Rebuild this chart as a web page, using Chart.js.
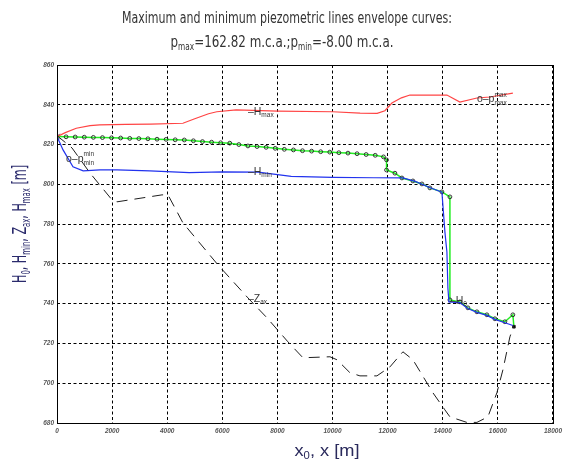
<!DOCTYPE html>
<html><head><meta charset="utf-8">
<script src="https://cdn.jsdelivr.net/npm/chart.js@4/dist/chart.umd.min.js"></script>
<style>html,body{margin:0;padding:0;background:#fff}#wrap{width:566px;height:463px}</style>
</head><body><div id="wrap"><canvas id="c" width="566" height="463"></canvas></div>
<script>
// ---- tick values ----
const xTicks = [0,2000,4000,6000,8000,10000,12000,14000,16000,18000];
const yTicks = [680,700,720,740,760,780,800,820,840,860];

// ---- H0 (initial piezometric line, green with node markers) ----
const h0X = [0,330,660,990,1320,1650,1980,2310,2640,2970,3300,3630,3960,4290,4620,4950,5280,5610,5940,6270,6600,6930,7260,7590,7920,8250,8580,8910,9240,9570,9900,10230,10560,10890,11220,11550,11850,11960,11960,12264,12518,12917,13244,13534,13970,14260,14260,14623,14913,15240,15602,15892,16255,16545,16582];
const h0Y = [824.0,823.9,823.8,823.7,823.6,823.5,823.4,823.3,823.1,823.0,822.9,822.7,822.6,822.4,822.3,821.9,821.5,821.2,820.9,820.7,820.0,819.3,819.0,818.6,818.1,817.6,817.3,816.9,816.7,816.4,816.2,815.9,815.7,815.4,815.0,814.6,813.8,812.3,807.2,805.6,803.2,801.7,800.2,798.2,796.2,793.7,741.9,740.9,737.9,735.9,734.4,732.4,730.9,734.4,728.4];

// ---- Hmax envelope (red) ----
const hmaxX = [0,300,700,1200,1550,2500,3400,4570,5000,5500,5800,6500,8000,10000,11000,11620,11900,12155,12500,12808,14151,14623,15240,15711,16545];
const hmaxY = [824.0,826.0,828.2,829.5,829.9,830.1,830.3,830.7,833.0,835.5,836.5,837.4,836.8,836.5,835.8,835.7,837.0,840.9,843.5,844.9,844.9,841.4,843.4,843.9,845.9];

// ---- Hmin envelope (blue) ----
const hminX = [0,220,580,950,1560,2180,3370,4800,6000,7300,8500,10000,11500,12550,13000,13500,13970,14078,14151,14187,14224,14623,14913,15240,15602,15892,16255,16545];
const hminY = [824.0,817.3,808.8,806.8,807.3,807.3,806.8,805.9,806.3,806.1,804.0,803.5,803.3,803.2,801.5,798.5,796.0,776.1,766.0,747.9,740.9,740.5,737.6,735.6,734.1,732.1,730.4,729.0];

// ---- Zax pipe axis profile (black dashed) ----
const zaxX = [0,544,1197,1996,2177,3810,4028,4572,5842,6930,7620,8382,8926,9906,10160,10631,10994,11611,12083,12554,12917,13643,14078,14260,14877,15240,15639,15965,16183,16437,16582];
const zaxY = [824.5,818.3,805.7,792.2,791.2,794.7,794.7,780.6,759.5,742.9,732.9,720.8,712.8,713.3,711.8,705.3,703.7,703.7,708.2,715.8,711.8,695.2,686.6,683.1,680.3,680.3,683.1,695.2,706.7,723.3,729.0];

// ---- text ----
const titleLine1 = 'Maximum and minimum piezometric lines envelope curves:';
const titleLine2 = [{t:'p'},{t:'max',sub:1},{t:'=162.82 m.c.a.;p'},{t:'min',sub:1},{t:'=-8.00 m.c.a.'}];
const yTitle = [{t:'H'},{t:'0',sub:1},{t:', H'},{t:'min',sub:1},{t:', Z'},{t:'ax',sub:1},{t:', H'},{t:'max',sub:1},{t:' [m]'}];
const xTitle = [{t:'x'},{t:'0',sub:1},{t:', x [m]'}];
const curveLabels = [
  {x:6930, y:836.9, parts:[{t:'\u2013H'},{t:'max',sub:1}]},
  {x:6930, y:806.7, parts:[{t:'\u2013H'},{t:'min',sub:1}]},
  {x:6930, y:742.9, parts:[{t:'\u2013Z'},{t:'ax',sub:1}]},
  {x:14260, y:741.9, parts:[{t:'\u2013H'},{t:'0',sub:1}]},
  {x:15240, y:843.4, parts:[{t:'o\u2013p'},{stack:['max','max']}]},
  {x:327, y:813.3, parts:[{t:'o\u2013p'},{stack:['min','min']}]}
];

const pts = (xs, ys) => xs.map((x, i) => ({x, y: ys[i]}));

const FAM_N = "'Liberation Sans Narrow','Arial Narrow','DejaVu Sans Condensed',sans-serif";
const FAM = "'Liberation Sans',Arial,sans-serif";

function measureParts(ctx, parts, size, fam) {
  const subSize = size * 0.62;
  return parts.map(p => {
    if (p.stack) {
      ctx.font = subSize + 'px ' + fam;
      return {p, w: Math.max(...p.stack.map(s => ctx.measureText(s).width))};
    }
    ctx.font = ((p.sub || p.sup) ? subSize : size) + 'px ' + fam;
    return {p, w: ctx.measureText(p.t).width};
  });
}
function drawRich(ctx, parts, x, y, size, fam, color, align, targetW) {
  const subSize = size * 0.62;
  const seg = measureParts(ctx, parts, size, fam);
  const total = seg.reduce((a, s) => a + s.w, 0);
  const sx = targetW ? targetW / total : 1;
  ctx.save();
  ctx.translate(x, y);
  ctx.scale(sx, 1);
  ctx.fillStyle = color;
  ctx.textBaseline = 'alphabetic';
  ctx.textAlign = 'left';
  let cx = align === 'center' ? -total / 2 : 0;
  for (const s of seg) {
    const p = s.p;
    if (p.stack) {
      ctx.font = subSize + 'px ' + fam;
      ctx.fillText(p.stack[0], cx, -size * 0.5);
      ctx.fillText(p.stack[1], cx, size * 0.32);
    } else if (p.sub) {
      ctx.font = subSize + 'px ' + fam;
      ctx.fillText(p.t, cx, size * 0.22);
    } else {
      ctx.font = size + 'px ' + fam;
      ctx.fillText(p.t, cx, 0);
    }
    cx += s.w;
  }
  ctx.restore();
}

const decor = {
  id: 'decor',
  afterDraw(chart) {
    const ctx = chart.ctx;
    const a = chart.chartArea;
    const xs = chart.scales.x, ys = chart.scales.y;
    // box
    ctx.save();
    ctx.strokeStyle = '#000';
    ctx.lineWidth = 1;
    ctx.setLineDash([]);
    ctx.strokeRect(Math.round(a.left) + 0.5, Math.round(a.top) + 0.5, Math.round(a.right - a.left), Math.round(a.bottom - a.top));
    ctx.restore();
    // title
    drawRich(ctx, [{t: titleLine1}], 287, 22.5, 16, FAM_N, '#333', 'center', 330);
    drawRich(ctx, titleLine2, 282, 46.5, 16, FAM_N, '#333', 'center', 223);
    // axis titles
    drawRich(ctx, xTitle, 327, 455.5, 17, FAM, '#2a2a5c', 'center', 65);
    ctx.save();
    ctx.translate(26, 224);
    ctx.rotate(-Math.PI / 2);
    drawRich(ctx, yTitle, 0, 0, 19, FAM_N, '#2a2a6c', 'center', 118);
    ctx.restore();
    // curve labels
    for (const l of curveLabels) {
      const px = xs.getPixelForValue(l.x), py = ys.getPixelForValue(l.y);
      drawRich(ctx, l.parts, px, py + 3.8, 10.5, FAM, '#333', 'left');
    }
  }
};

new Chart(document.getElementById('c'), {
  type: 'line',
  data: {
    datasets: [
      {label: 'Zax', data: pts(zaxX, zaxY), borderColor: '#1e1e1e', borderWidth: 1, borderDash: [11, 7], pointRadius: 0, tension: 0},
      {label: 'Hmax', data: pts(hmaxX, hmaxY), borderColor: '#ff4444', borderWidth: 1.2, pointRadius: 0, tension: 0},
      {label: 'Hmin', data: pts(hminX, hminY), borderColor: '#2233ee', borderWidth: 1.2, pointRadius: 0, tension: 0},
      {label: 'H0', data: pts(h0X, h0Y), borderColor: '#22ee22', borderWidth: 1.5, tension: 0,
        pointRadius: c => (c.dataIndex === 0 ? 4 : 1.9),
        pointStyle: c => (c.dataIndex === 0 ? 'crossRot' : (c.dataIndex === h0X.length - 1 ? 'rect' : 'circle')),
        pointBorderColor: '#222',
        pointBackgroundColor: c => (c.dataIndex === h0X.length - 1 ? '#000' : 'rgba(0,0,0,0)'),
        pointBorderWidth: 0.9}
    ]
  },
  options: {
    responsive: false,
    animation: false,
    devicePixelRatio: 1,
    layout: {padding: {left: 0, top: 65, right: 13, bottom: 0}},
    plugins: {legend: {display: false}, title: {display: false}, tooltip: {enabled: false}},
    scales: {
      x: {
        type: 'linear', min: xTicks[0], max: xTicks[xTicks.length - 1],
        afterBuildTicks: s => { s.ticks = xTicks.map(v => ({value: v})); },
        afterFit: s => { s.height = 40; },
        grid: {color: '#000', lineWidth: 1, drawTicks: false},
        border: {display: false, dash: [3, 2.5]},
        ticks: {autoSkip: false, maxRotation: 0, padding: 4, color: '#555',
          font: {size: 6.5, style: 'italic', weight: 'bold', family: 'Liberation Sans'},
          callback: v => String(v)}
      },
      y: {
        type: 'linear', min: yTicks[0], max: yTicks[yTicks.length - 1],
        afterBuildTicks: s => { s.ticks = yTicks.map(v => ({value: v})); },
        afterFit: s => { s.width = 57; },
        grid: {color: '#000', lineWidth: 1, drawTicks: false},
        border: {display: false, dash: [3, 2.5]},
        ticks: {autoSkip: false, padding: 3, color: '#555',
          font: {size: 6.5, style: 'italic', weight: 'bold', family: 'Liberation Sans'},
          callback: v => String(v)}
      }
    }
  },
  plugins: [decor]
});
</script>
</body></html>
